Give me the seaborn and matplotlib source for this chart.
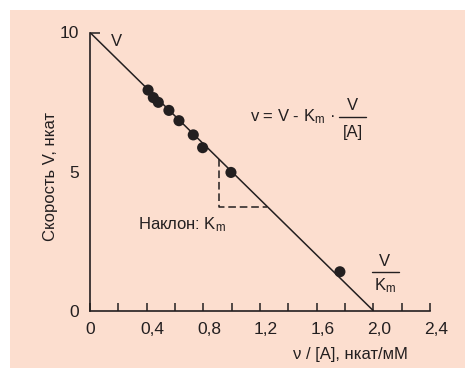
import numpy as np
import pandas as pd
import matplotlib
matplotlib.use("Agg")
import matplotlib.pyplot as plt
import matplotlib.transforms as mtransforms
from matplotlib.lines import Line2D
from matplotlib.patches import Rectangle
import seaborn as sns

# -----------------------------
# Data
# -----------------------------
v_over_a = [0.41, 0.447, 0.482, 0.557, 0.628, 0.729, 0.795, 0.995, 1.764]
velocity = [7.93, 7.66, 7.49, 7.20, 6.83, 6.32, 5.86, 4.97, 1.40]

V_MAX = 10.0            # y intercept
V_OVER_KM = 2.0         # x intercept
slope_x = 0.91          # dashed slope triangle, vertical leg
slope_y = 3.74          # dashed slope triangle, horizontal leg

x_major = [0, 0.4, 0.8, 1.2, 1.6, 2.0, 2.4]
x_major_labels = ["0", "0,4", "0,8", "1,2", "1,6", "2,0", "2,4"]
x_minor = [0.2, 0.6, 1.0, 1.4, 1.8, 2.2]
y_labels = {0: "0", 5: "5"}

INK = "#231f20"
PEACH = "#fcdecf"

sns.set_theme(style="white")
plt.rcParams["font.family"] = ["Liberation Sans", "DejaVu Sans"]
plt.rcParams["mathtext.fontset"] = "custom"
plt.rcParams["mathtext.rm"] = "Liberation Sans"
plt.rcParams["mathtext.it"] = "Liberation Sans"
FS = 12
TICK_FS = 12.5

fig = plt.figure(figsize=(4.65, 3.69), dpi=100, facecolor="white")
fig.add_artist(Rectangle((10 / 465, 1 / 369), 1, 358 / 369,
                         transform=fig.transFigure, facecolor=PEACH,
                         edgecolor="none", zorder=0))

ax = fig.add_axes([90 / 465, 58.3 / 369, 340 / 465, 278.2 / 369])
ax.set_facecolor("none")

# main line + measured points
line_df = pd.DataFrame({"x": [0, V_OVER_KM], "y": [V_MAX, 0]})
sns.lineplot(data=line_df, x="x", y="y", ax=ax, color=INK, lw=1.1,
             sort=False, estimator=None)
pts = pd.DataFrame({"x": v_over_a, "y": velocity})
sns.scatterplot(data=pts, x="x", y="y", ax=ax, color=INK, s=64,
                edgecolor="none", zorder=5)

# dashed slope triangle
slope = -V_MAX / V_OVER_KM
y_top = V_MAX + slope * slope_x
x_right = (slope_y - V_MAX) / slope
ax.plot([slope_x, slope_x, x_right], [y_top, slope_y, slope_y],
        color=INK, lw=1.1, ls=(0, (5, 2.5)))

ax.set_xlim(0, 2.4)
ax.set_ylim(0, 10)
sns.despine(ax=ax)
for s in ("left", "bottom"):
    ax.spines[s].set_color(INK)
    ax.spines[s].set_linewidth(1.2)

ax.set_xticks(x_major)
ax.set_xticklabels(x_major_labels)
ax.set_xticks(x_minor, minor=True)
ax.set_yticks([10])
ax.set_yticklabels(["10"])
ax.set_yticks(list(y_labels.keys()), minor=True)
ax.set_yticklabels(list(y_labels.values()), minor=True)
ax.tick_params(axis="x", which="both", direction="in", length=6, width=1.1,
               color=INK, labelsize=TICK_FS, labelcolor=INK, pad=8)
ax.tick_params(axis="y", which="major", direction="in", length=7, width=1.1,
               color=INK, labelsize=TICK_FS, labelcolor=INK, pad=8)
ax.tick_params(axis="y", which="minor", length=0, labelsize=TICK_FS,
               labelcolor=INK, pad=8)
ax.tick_params(bottom=True, left=True, which="both")
ax.set_xlabel("")
ax.set_ylabel("")

# the original labels sit a touch right of their ticks
shift = mtransforms.ScaledTranslation(6 / 100, 0, fig.dpi_scale_trans)
for lab in ax.get_xticklabels()[1:]:
    lab.set_transform(lab.get_transform() + shift)

fig.text(50 / 465, (369 - 176) / 369, "Скорость V, нкат", rotation=90,
         ha="center", va="center", fontsize=FS, color=INK)
fig.text(408 / 465, (369 - 355) / 369, "ν / [A], нкат/мМ",
         ha="right", va="center", fontsize=FS, color=INK)

km = r"K$_\mathregular{m}$"
ax.text(0.19, 9.66, "V", ha="center", va="center", fontsize=FS, color=INK)
ax.text(0.339, 3.08, "Наклон: " + km, ha="left", va="center",
        fontsize=FS, color=INK)

# equation
ax.text(1.729, 6.96, "v = V - " + km + " ·", ha="right", va="center",
        fontsize=FS, color=INK)
ax.text(1.856, 7.38, "V", ha="center", va="center", fontsize=FS, color=INK)
ax.text(1.856, 6.42, "[A]", ha="center", va="center", fontsize=FS, color=INK)
ax.add_line(Line2D([1.757, 1.948], [6.96, 6.96], color=INK, lw=1.0,
                   clip_on=False))

# V / Km near the x intercept
ax.text(2.082, 1.77, "V", ha="center", va="center", fontsize=FS, color=INK)
ax.text(2.082, 0.90, km, ha="center", va="center", fontsize=FS, color=INK)
ax.add_line(Line2D([1.99, 2.18], [1.39, 1.39], color=INK, lw=1.0,
                   clip_on=False))

fig.savefig("out.png", dpi=100, facecolor="white")
